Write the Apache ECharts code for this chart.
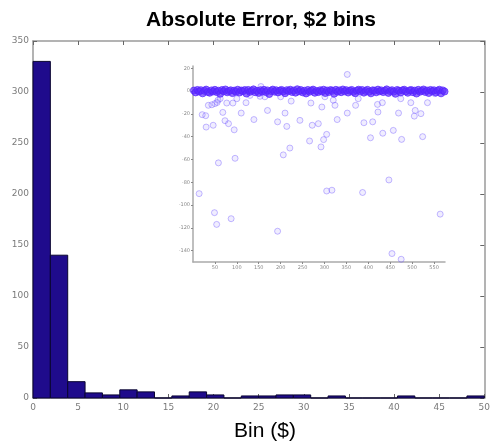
<!DOCTYPE html>
<html>
<head>
<meta charset="utf-8">
<script src="https://cdn.jsdelivr.net/npm/echarts@6/dist/echarts.min.js"></script>
<style>
  html, body { margin: 0; padding: 0; background: #fff; }
  #main { width: 493px; height: 445px; }
</style>
</head>
<body>
<div id="main"></div>
<script>
// histogram: 26 bins spanning 0..50
const binMax = 50
const binCounts = [330, 140, 16, 5, 3, 8, 6, 0, 2, 6, 3, 0, 2, 2, 3, 3, 0, 2, 0, 0, 0, 2, 0, 0, 0, 2]
const xTicks = [0, 5, 10, 15, 20, 25, 30, 35, 40, 45, 50]
const yTicks = [0, 50, 100, 150, 200, 250, 300, 350]

// inset: error per sample index
const insetYTicks = [-140, -120, -100, -80, -60, -40, -20, 0, 20]
// dense band near zero, one value every 4 samples
const bandStep = 4
const bandValues = [
  0.5, -1.2, 1.0, -0.4, 0.8, -2.0, 0.2, 1.3, -0.8, -1.5, 0.6, -0.3,
  1.1, -0.9, 0.3, -2.4, 0.9, -0.2, 1.4, -1.1, 0.0, 0.7, -1.8, 0.4,
  -0.6, 1.2, -1.3, 0.5, -0.1, 0.9, -2.2, 1.0, -0.7, 0.3, 1.5, -1.0,
  0.2, -1.6, 0.8, -0.4, 1.1, -0.9, 0.6, -2.6, 0.1, 1.3, -0.5, 0.7,
  -1.2, 0.4, 1.0, -0.3, -1.9, 0.8, 0.0, 1.2, -0.8, 0.5, -1.4, 1.6,
  -0.2, 0.9, -1.1, 0.3, -2.1, 1.0, -0.6, 0.4, 1.3, -1.5, 0.1, -0.9,
  0.7, -0.3, 1.2, -1.7, 0.5, -0.8, 0.9, 0.2, -2.3, 1.1, -0.5, 0.6,
  -1.0, 1.4, -0.2, 0.8, -1.3, 0.3, 1.0, -0.7, -1.9, 0.5, 1.2, -0.4,
  0.9, -1.4, 0.1, 1.1, -0.6, -2.0, 0.7, 0.3, -1.1, 1.3, -0.2, 0.6,
  -0.9, 0.4, 1.5, -1.6, 0.0, 0.8, -0.5, -2.4, 1.0, 0.2, -1.2, 0.7,
  1.2, -0.3, -1.5, 0.6, 0.9, -1.0, 0.4, -2.2, 1.1, -0.6, 0.3, 1.4,
  -0.8, 0.5, -1.7, 1.0, -0.1, 0.7, -1.3, 0.2, 1.2, -2.0, 0.6, -0.4
]
// points away from the band [sample, error]
const outliers = [
  [14, -90], [21, -20.7], [29, -21.6], [30, -31.6], [35, -12.5], [43, -12],
  [46, -30], [49, -106.7], [50, -11], [54, -117], [55, -10], [57, -8],
  [58, -63], [62, -6.7], [68, -18.7], [73, -26], [77, -10.5], [81, -28.6],
  [87, -112], [91, -10.5], [94, -34], [96, -59], [100, -6.7], [110, -19.3],
  [121, -10.2], [130, -3.8], [139, -25], [153, -4.6], [155, 4], [164, -5],
  [170, -17], [193, -27], [193, -123], [200, -5], [206, -56], [210, -19.3],
  [214, -31], [221, -50], [224, -8.8], [244, -25.7], [266, -43.8], [269, -10.5],
  [272, -30], [286, -28.6], [292, -49], [294, -14], [298, -42.6], [301, -5],
  [305, -38], [305, -87.7], [317, -87], [320, -8], [324, -12.5], [329, -25],
  [352, 14.6], [352, -19.3], [371, -12.5], [377, -6.7], [387, -89], [390, -27.8],
  [405, -41], [410, -27], [421, -11.7], [422, -18.4], [432, -10.2], [433, -37],
  [447, -78], [454, -142.6], [457, -34.5], [469, -19.3], [474, -6.7], [475, -147.6],
  [476, -42.4], [497, -10.2], [505, -22], [507, -17], [520, -19.8], [524, -40],
  [535, -10.2], [552, -2.3], [564, -108]
]

const binWidth = binMax / binCounts.length
const histData = binCounts.map((c, i) => [i * binWidth, (i + 1) * binWidth, c])
const bandData = bandValues.map((v, i) => [i * bandStep + 2, v])

const axisGray = '#9a9a9a'
const labelGray = '#7a7a7a'

function mainAxis (extra) {
  return Object.assign({
    type: 'value',
    axisLine: { show: true, onZero: false, lineStyle: { color: axisGray, width: 1.5 } },
    axisTick: { show: true, inside: true, length: 4, lineStyle: { color: '#666' } },
    splitLine: { show: false },
    axisLabel: { color: labelGray, fontSize: 9, fontFamily: 'DejaVu Sans' }
  }, extra)
}

function insetAxis (extra) {
  return Object.assign({
    type: 'value',
    gridIndex: 1,
    axisLine: { show: true, onZero: false, lineStyle: { color: '#aaa', width: 1.5 } },
    splitLine: { show: false }
  }, extra)
}

const chart = echarts.init(document.getElementById('main'))
const option = {
  animation: false,
  backgroundColor: '#fff',
  title: {
    text: 'Absolute Error, $2 bins',
    left: 256,
    textAlign: 'center',
    top: 5,
    textStyle: { fontFamily: 'Liberation Sans', fontWeight: 'bold', fontSize: 21, color: '#000' }
  },
  grid: [
    { left: 33, right: 6, top: 41, bottom: 47 },
    { left: 193, right: 48, top: 66, bottom: 183 }
  ],
  xAxis: [
    mainAxis({ min: 0, max: binMax, interval: 5, axisLabel: { color: labelGray, fontSize: 9, fontFamily: 'DejaVu Sans', margin: 5 } }),
    mainAxis({ min: 0, max: binMax, interval: 5, position: 'top', axisLabel: { show: false } }),
    insetAxis({
      min: 0, max: 575, interval: 50,
      axisTick: { show: true, inside: false, length: 2, lineStyle: { color: '#888' } },
      axisLabel: { color: '#888', fontSize: 5, fontFamily: 'DejaVu Sans', margin: 3, showMinLabel: false, showMaxLabel: false }
    })
  ],
  yAxis: [
    mainAxis({ min: 0, max: 350, interval: 50, axisLabel: { color: labelGray, fontSize: 9, fontFamily: 'DejaVu Sans', margin: 4 } }),
    mainAxis({ min: 0, max: 350, interval: 50, position: 'right', axisLabel: { show: false } }),
    insetAxis({
      min: -150, max: 22,
      axisTick: { show: true, inside: false, length: 2, customValues: insetYTicks, lineStyle: { color: '#888' } },
      axisLabel: { color: '#888', fontSize: 5, fontFamily: 'DejaVu Sans', margin: 3, customValues: insetYTicks }
    })
  ],
  series: [
    {
      type: 'custom',
      xAxisIndex: 0,
      yAxisIndex: 0,
      data: histData,
      renderItem: function (params, api) {
        const p0 = api.coord([api.value(0), api.value(2)])
        const p1 = api.coord([api.value(1), 0])
        return {
          type: 'rect',
          shape: { x: p0[0], y: p0[1], width: p1[0] - p0[0], height: p1[1] - p0[1] },
          style: { fill: '#1f0b8c', stroke: '#0a0530', lineWidth: 1 }
        }
      }
    },
    {
      type: 'scatter',
      xAxisIndex: 2,
      yAxisIndex: 2,
      symbol: 'circle',
      symbolSize: 6,
      data: outliers,
      itemStyle: { color: 'rgba(160,145,255,0.2)', borderColor: 'rgba(110,85,255,0.5)', borderWidth: 1 }
    },
    {
      type: 'scatter',
      xAxisIndex: 2,
      yAxisIndex: 2,
      symbol: 'circle',
      symbolSize: 7,
      data: bandData,
      itemStyle: { color: 'rgba(95,45,255,0.85)', borderColor: 'rgba(85,35,255,0.9)', borderWidth: 1 }
    }
  ],
  graphic: [
    {
      type: 'text',
      x: 265,
      y: 431,
      style: { text: 'Bin ($)', fontFamily: 'Liberation Sans', fontSize: 21, fill: '#000', textAlign: 'center', textVerticalAlign: 'middle' }
    }
  ]
}
chart.setOption(option)
</script>
</body>
</html>
